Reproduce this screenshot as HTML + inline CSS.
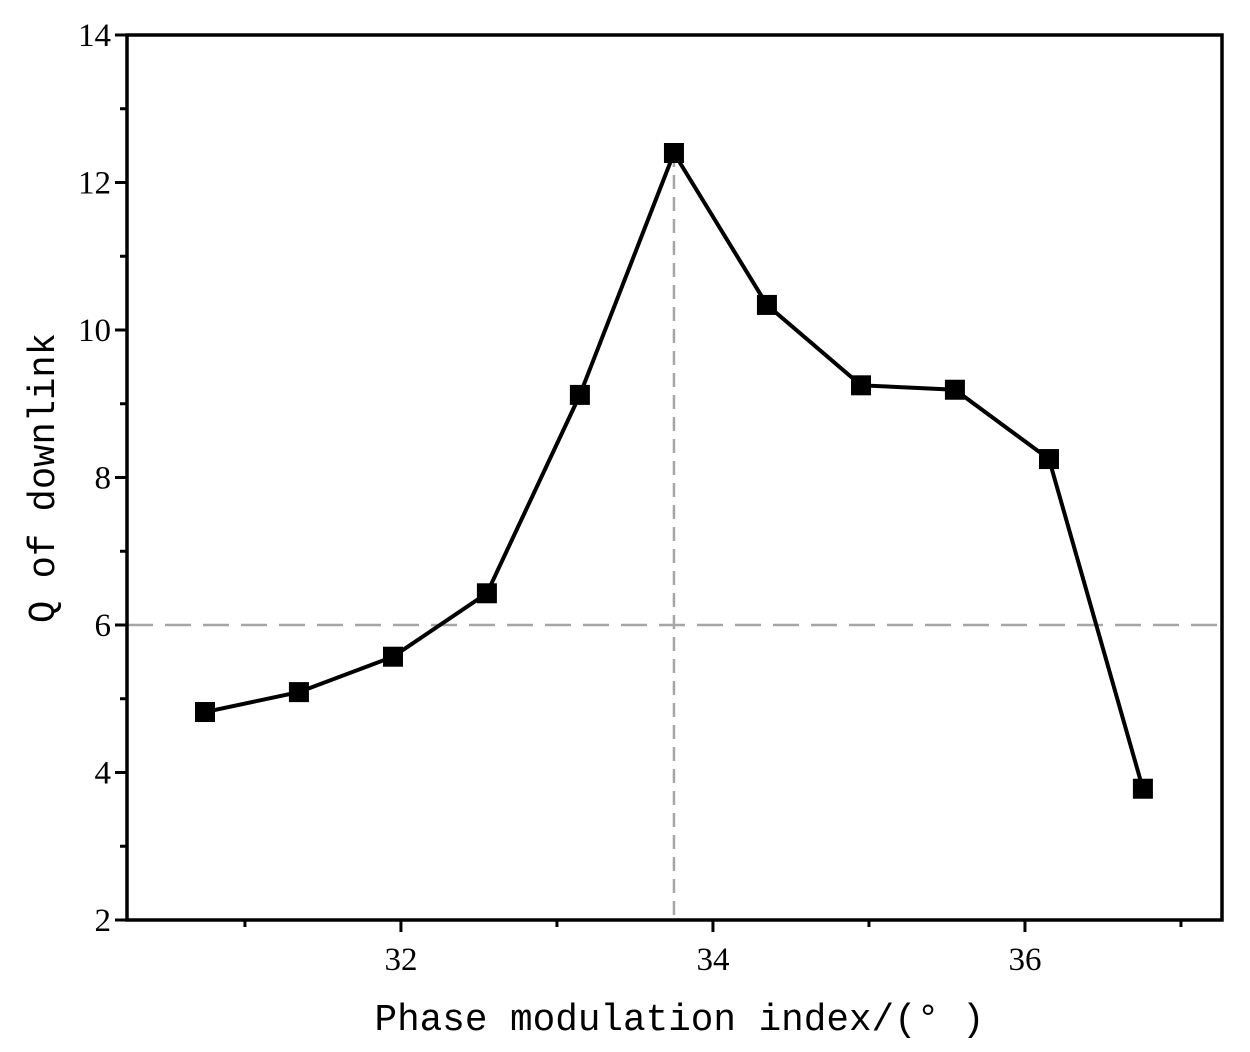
<!DOCTYPE html>
<html><head><meta charset="utf-8"><style>
html,body{margin:0;padding:0;background:#fff;}
svg{display:block;}
</style></head><body>
<svg id="chart" width="1250" height="1052" xmlns="http://www.w3.org/2000/svg"></svg>
<script>
const xValues=[30.744,31.346,31.949,32.551,33.147,33.75,34.346,34.949,35.551,36.154,36.756];
const yValues=[4.82,5.09,5.57,6.43,9.12,12.40,10.34,9.25,9.19,8.25,3.78];
const xTicks=[32,34,36];
const xMinor=[31,33,35,37];
const yTicks=[2,4,6,8,10,12,14];
const yMinor=[3,5,7,9,11,13];
const refX=33.75, refY=6;
const L=127,R=1222,T=35,B=920;
const xMin=30.244,xMax=37.263,yMin=2,yMax=14;
const sx=v=>L+(v-xMin)/(xMax-xMin)*(R-L);
const sy=v=>B-(v-yMin)/(yMax-yMin)*(B-T);
const svg=document.getElementById('chart');
const NS='http://www.w3.org/2000/svg';
const SERIF='"Liberation Serif","DejaVu Serif",serif';
const MONO='"Liberation Mono","DejaVu Sans Mono",monospace';
function mk(tag,attrs,parent){const e=document.createElementNS(NS,tag);for(const k in attrs)e.setAttribute(k,attrs[k]);(parent||svg).appendChild(e);return e;}
let e=mk('line',{x1:sx(refX),x2:sx(refX),y1:sy(12.4),y2:B,stroke:'#a6a6a6','stroke-width':2.5,'stroke-dasharray':'14,8'});


e=mk('line',{x1:L,x2:R,y1:sy(refY),y2:sy(refY),stroke:'#a6a6a6','stroke-width':2.5,'stroke-dasharray':'26,12'});


e=mk('rect',{x:L,y:T,width:R-L,height:B-T,fill:'none',stroke:'#000','stroke-width':3.5});


xTicks.forEach(v=>{
 let t=mk('line',{x1:sx(v),x2:sx(v),y1:B,y2:B+12,stroke:'#000','stroke-width':3});
 
 
 let l=mk('text',{x:sx(v),y:B+50,'text-anchor':'middle','font-family':SERIF,'font-size':33});l.textContent=v;
 
 
});
xMinor.forEach(v=>{
 let t=mk('line',{x1:sx(v),x2:sx(v),y1:B,y2:B+7,stroke:'#000','stroke-width':3});
 
 
});
yTicks.forEach(v=>{
 let t=mk('line',{x1:L-12,x2:L,y1:sy(v),y2:sy(v),stroke:'#000','stroke-width':3});
 
 
 let l=mk('text',{x:L-16,y:sy(v)+11,'text-anchor':'end','font-family':SERIF,'font-size':33});l.textContent=v;
 
 
});
yMinor.forEach(v=>{
 let t=mk('line',{x1:L-7,x2:L,y1:sy(v),y2:sy(v),stroke:'#000','stroke-width':3});
 
 
});
const pts=xValues.map((x,i)=>sx(x)+','+sy(yValues[i])).join(' ');
e=mk('polyline',{points:pts,fill:'none',stroke:'#000','stroke-width':4});


xValues.forEach((x,i)=>{
 let m=mk('rect',{x:sx(x)-10,y:sy(yValues[i])-10,width:20,height:20,fill:'#000'});
 
 
});
e=mk('text',{x:(L+R)/2+5,y:1030,'text-anchor':'middle','font-family':MONO,'font-size':38,textLength:610,lengthAdjust:'spacingAndGlyphs'});
e.textContent='Phase modulation index/(° )';


e=mk('text',{x:0,y:0,'text-anchor':'middle','font-family':MONO,'font-size':38,textLength:290,lengthAdjust:'spacingAndGlyphs',transform:'translate(54,478) rotate(-90)'});
e.textContent='Q of downlink';


</script>
</body></html>
